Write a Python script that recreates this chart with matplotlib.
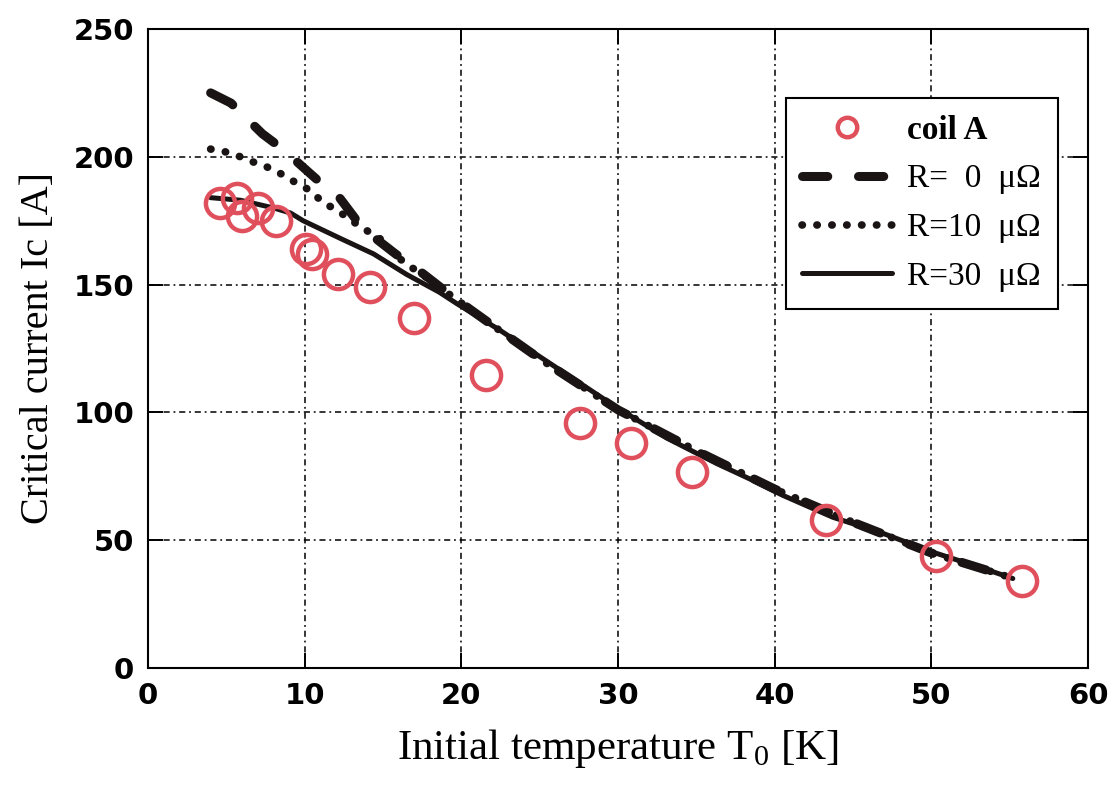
import matplotlib
matplotlib.use("Agg")
import matplotlib.pyplot as plt

# coil A measurements
coil_T = [4.6, 5.7, 6.0, 7.0, 8.2, 10.1, 10.5, 12.1, 14.2, 17.0, 21.6, 27.6, 30.8, 34.7, 43.3, 50.3, 55.8]
coil_I = [182, 184, 177, 180, 175, 164, 162, 154, 149, 137, 114.5, 95.7, 88, 76.6, 57.8, 43.7, 34]

# calculated curves
r0_T = [4.0, 5.3, 7.3, 8.6, 10.8, 12.1, 13.7, 15.8, 17.4, 19.5, 22.0, 25.0, 30.0, 35.0, 40.0, 45.0, 50.0, 55.0]
r0_I = [225, 221, 209, 203, 191, 185, 172, 162, 155, 145, 134, 121, 101, 85, 70, 57, 45, 35.5]

r10_T = [4.0, 4.9, 5.9, 6.7, 7.6, 8.6, 9.4, 10.3, 11.2, 12.1, 13.0, 14.0, 14.8, 15.6, 16.5, 17.5,
         19.5, 22.0, 25.0, 30.0, 35.0, 40.0, 45.0, 50.0, 55.0]
r10_I = [203, 202, 200, 198, 196, 193, 190, 187, 182, 179, 175, 171, 168, 162.5, 158, 154,
         145, 134, 121, 101, 85, 70, 57, 45, 35.5]

r30_T = [4.0, 5.9, 8.0, 9.1, 9.9, 12.3, 14.4, 16.5, 18.6, 19.7, 22.5, 25.7, 29.9, 33.1, 36.3,
         38.4, 40.5, 43.7, 46.9, 50.1, 53.3, 55.2]
r30_I = [184, 183, 180, 178, 175, 168, 162, 154, 147, 142.6, 132, 119, 102, 90, 80,
         74, 67.6, 59, 52.7, 45.3, 39, 35]

red = "#e0505c"
ink = "#1a1414"
serif = ["Liberation Serif", "DejaVu Serif"]

fig = plt.figure(figsize=(11.15, 7.87), dpi=100)
ax = fig.add_axes([0.1327, 0.1512, 0.8431, 0.8120])

ax.plot(r30_T, r30_I, color=ink, lw=3.6, solid_capstyle="round", label="R=30  μΩ")
ax.plot(r10_T, r10_I, color=ink, lw=5.5, dashes=(0.05, 1.9), dash_capstyle="round",
        label="R=10  μΩ")
ax.plot(r0_T, r0_I, color=ink, lw=6.5, dashes=(2.8, 3.4), dash_capstyle="round",
        label="R=  0  μΩ")
ax.plot(coil_T, coil_I, "o", ms=21, mfc="none", mec=red, mew=3.2, label="coil A")

ax.set_xlim(0, 60)
ax.set_ylim(0, 250)
ax.set_xticks(range(0, 61, 10))
ax.set_yticks(range(0, 251, 50))
ax.grid(True, color="black", lw=1.1, dashes=(4, 2.5, 1.2, 2.5))
ax.tick_params(direction="in", length=11, width=1.4, top=True, right=True, pad=10)
for lab in ax.get_xticklabels() + ax.get_yticklabels():
    lab.set_fontsize(21)
    lab.set_fontweight("bold")
for s in ax.spines.values():
    s.set_linewidth(1.5)

ax.set_xlabel(r"Initial temperature T$_\mathregular{0}$ [K]", family=serif, fontsize=31, labelpad=12)
ax.set_ylabel("Critical current Ic [A]", family=serif, fontsize=29, labelpad=12)

h, l = ax.get_legend_handles_labels()
order = [3, 2, 1, 0]
leg = ax.legend([h[i] for i in order], [l[i] for i in order], loc="upper right",
                bbox_to_anchor=(0.968, 0.892), borderaxespad=0, fancybox=False, framealpha=1,
                edgecolor="black", prop={"family": serif, "size": 24},
                handlelength=2.7, borderpad=0.5, labelspacing=0.55, handletextpad=0.45)
leg.get_frame().set_linewidth(1.5)
leg.legend_handles[0].set_markersize(14)
leg.get_texts()[0].set_fontweight("bold")

fig.savefig("out.png", dpi=100)
